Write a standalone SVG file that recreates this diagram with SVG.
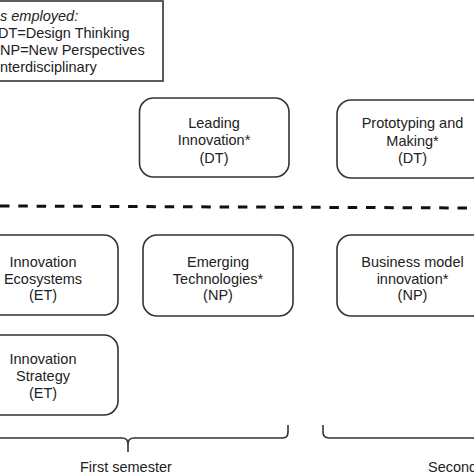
<svg xmlns="http://www.w3.org/2000/svg" width="474" height="474" viewBox="0 0 474 474">
<style>
.box{fill:#fff;stroke:#333;stroke-width:1.6}
.t{font-family:"Liberation Sans",Arial,sans-serif;font-size:14.5px;fill:#222}
.c{text-anchor:middle}
.ln{fill:none;stroke:#333;stroke-width:1.6}
</style>
<rect width="474" height="474" fill="#fff"/>
<g id="legend">
<rect class="box" x="-10" y="1" width="173" height="80"/>
<text class="t" x="0" y="21" font-style="italic">s employed:</text>
<text class="t" x="-2" y="38">DT=Design Thinking</text>
<text class="t" x="0" y="55">NP=New Perspectives</text>
<text class="t" x="0" y="71.5">nterdisciplinary</text>
</g>
<g id="leading">
<rect class="box" x="139.5" y="98" width="149.5" height="79" rx="14"/>
<text class="t c" x="214" y="127.5">Leading</text>
<text class="t c" x="214" y="145">Innovation*</text>
<text class="t c" x="214" y="162.5">(DT)</text>
</g>
<g id="prototyping">
<rect class="box" x="337" y="100" width="160" height="78" rx="14"/>
<text class="t c" x="412.5" y="128">Prototyping and</text>
<text class="t c" x="412.5" y="145.5">Making*</text>
<text class="t c" x="412.5" y="163">(DT)</text>
</g>
<g id="ecosystems">
<rect class="box" x="-20" y="235" width="138" height="80" rx="14"/>
<text class="t c" x="43" y="267">Innovation</text>
<text class="t c" x="43" y="283.5">Ecosystems</text>
<text class="t c" x="43" y="300">(ET)</text>
</g>
<g id="emerging">
<rect class="box" x="143" y="235" width="150" height="81" rx="14"/>
<text class="t c" x="218" y="267">Emerging</text>
<text class="t c" x="218" y="283.5">Technologies*</text>
<text class="t c" x="218" y="300">(NP)</text>
</g>
<g id="business">
<rect class="box" x="337" y="235" width="160" height="81" rx="14"/>
<text class="t c" x="412.5" y="267">Business model</text>
<text class="t c" x="412.5" y="283.5">innovation*</text>
<text class="t c" x="412.5" y="300">(NP)</text>
</g>
<g id="strategy">
<rect class="box" x="-20" y="335" width="138" height="80" rx="14"/>
<text class="t c" x="43" y="364">Innovation</text>
<text class="t c" x="43" y="381">Strategy</text>
<text class="t c" x="43" y="398">(ET)</text>
</g>
<g id="connectors">
<line x1="0" y1="206" x2="474" y2="208" stroke="#111" stroke-width="3" stroke-dasharray="9.5 8.8"/>
<path class="ln" d="M -5 438 H 122 Q 128 438 128 444 V 452 M 128 444 Q 128 438 134 438 H 283 Q 288 438 288 432 V 425"/>
<path class="ln" d="M 323 425 V 432 Q 323 438 329 438 H 480"/>
</g>
<g id="labels">
<text class="t" x="80" y="472">First semester</text>
<text class="t" x="428" y="472">Second</text>
</g>
</svg>
